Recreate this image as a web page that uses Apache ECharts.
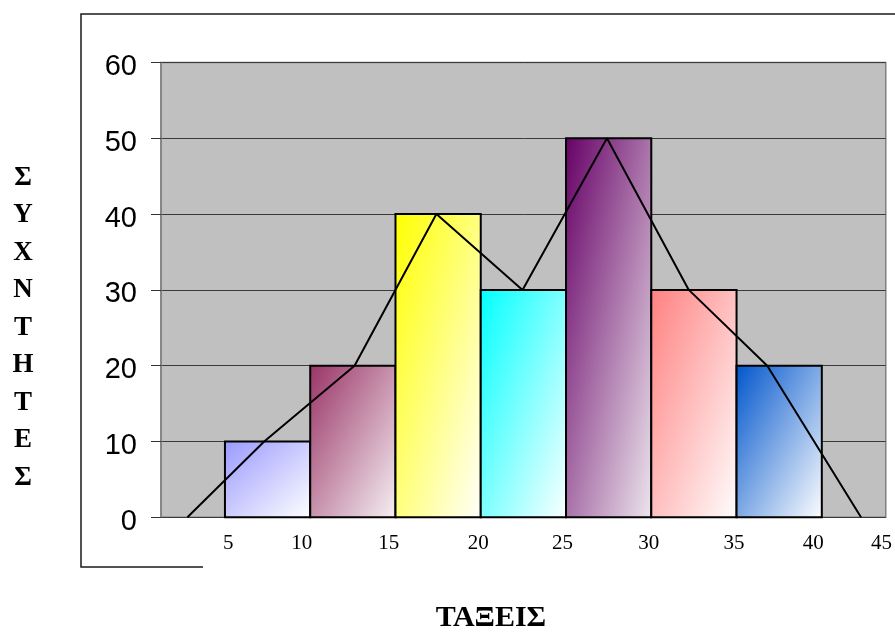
<!DOCTYPE html>
<html>
<head>
<meta charset="utf-8">
<script src="https://cdn.jsdelivr.net/npm/echarts@6/dist/echarts.min.js"></script>
<style>
  html, body { margin: 0; padding: 0; background: #ffffff; }
  #chart { width: 895px; height: 632px; }
</style>
</head>
<body>
<div id="chart"></div>
<script>
// Class intervals (ΤΑΞΕΙΣ) and their frequencies (ΣΥΧΝΟΤΗΤΕΣ)
const classLower = [5, 10, 15, 20, 25, 30, 35];
const classUpper = [10, 15, 20, 25, 30, 35, 40];
const frequencies = [10, 20, 40, 30, 50, 30, 20];

// Frequency polygon vertices (x in class units, y = frequency)
const polygonX = [2.8, 7.3, 12.6, 17.4, 22.45, 27.4, 32.2, 36.8, 42.3];
const polygonY = [0, 10, 20, 40, 30, 50, 30, 20, 0];

// Horizontal tick labels and where each one sits along the axis
const xTickLabels = ['5', '10', '15', '20', '25', '30', '35', '40', '45'];
const xTickAt = [5.2, 9.5, 14.6, 19.85, 24.8, 29.85, 34.85, 39.5, 43.5];

// Vertical axis range
const yMin = 0, yMax = 60, yStep = 10;

// Bar fills: start colour (top-left corner) to end colour (bottom-right corner)
const barFills = [
  ['#9999ff', '#ffffff'],
  ['#993366', '#f6f2f4'],
  ['#ffff00', '#ffffff'],
  ['#00ffff', '#ffffff'],
  ['#660066', '#efeaef'],
  ['#ff8080', '#ffffff'],
  ['#0055cc', '#ffffff']
];

const histData = classLower.map((lo, i) => [lo, classUpper[i], frequencies[i]]);
const polygonData = polygonX.map((x, i) => [x, polygonY[i]]);

// Corner-to-corner gradient whose colour bands run parallel to the
// rectangle's other diagonal (direction expressed as box fractions).
function diagonalGradient(w, h, c0, c1) {
  const d = w * w + h * h;
  const x2 = d > 0 ? (2 * h * h) / d : 1;
  const y2 = d > 0 ? (2 * w * w) / d : 1;
  return new echarts.graphic.LinearGradient(0, 0, x2, y2, [
    { offset: 0, color: c0 },
    { offset: 1, color: c1 }
  ]);
}

const chart = echarts.init(document.getElementById('chart'), null, { renderer: 'canvas' });

chart.setOption({
  animation: false,
  backgroundColor: '#ffffff',
  title: [
    {
      text: 'Σ\nΥ\nΧ\nΝ\nΤ\nΗ\nΤ\nΕ\nΣ',
      left: 23,
      top: 159,
      textAlign: 'center',
      padding: 0,
      textStyle: {
        fontFamily: 'Liberation Serif',
        fontWeight: 'bold',
        fontSize: 27,
        lineHeight: 37.5,
        color: '#000000'
      }
    },
    {
      text: 'ΤΑΞΕΙΣ',
      left: 491,
      top: 602,
      textAlign: 'center',
      padding: 0,
      textStyle: {
        fontFamily: 'Liberation Serif',
        fontWeight: 'bold',
        fontSize: 30,
        lineHeight: 32,
        color: '#000000'
      }
    }
  ],
  grid: {
    left: 161,
    top: 62.5,
    width: 726.3,
    height: 454.8,
    show: true,
    backgroundColor: '#c0c0c0',
    borderColor: '#808080',
    borderWidth: 1.5
  },
  xAxis: {
    type: 'value',
    min: 1.25,
    max: 43.75,
    axisLine: { show: false },
    axisTick: { show: false },
    splitLine: { show: false },
    axisLabel: {
      customValues: xTickAt,
      margin: 16,
      fontFamily: 'Liberation Serif',
      fontSize: 21,
      color: '#000000',
      formatter: function (v) {
        let best = 0;
        for (let i = 1; i < xTickAt.length; i++) {
          if (Math.abs(xTickAt[i] - v) < Math.abs(xTickAt[best] - v)) best = i;
        }
        return xTickLabels[best];
      }
    }
  },
  yAxis: {
    type: 'value',
    min: yMin,
    max: yMax,
    interval: yStep,
    axisLine: { show: true, lineStyle: { color: '#808080', width: 1.5 } },
    axisTick: { show: true, length: 10, lineStyle: { color: '#333333', width: 1 } },
    splitLine: { show: true, lineStyle: { color: '#3a3a3a', width: 1 } },
    axisLabel: {
      margin: 24,
      fontFamily: 'Liberation Sans',
      fontSize: 29,
      color: '#000000',
      verticalAlign: 'top',
      lineHeight: 9
    }
  },
  graphic: [
    {
      type: 'polyline',
      silent: true,
      shape: { points: [[203, 567], [81, 567], [81, 14], [895, 14]] },
      style: { stroke: '#1a1a1a', lineWidth: 1.5, fill: null }
    }
  ],
  series: [
    {
      type: 'custom',
      data: histData,
      z: 2,
      renderItem: function (params, api) {
        const topLeft = api.coord([api.value(0), api.value(2)]);
        const bottomRight = api.coord([api.value(1), 0]);
        const w = bottomRight[0] - topLeft[0];
        const h = bottomRight[1] - topLeft[1];
        const f = barFills[params.dataIndex];
        return {
          type: 'rect',
          shape: { x: topLeft[0], y: topLeft[1], width: w, height: h },
          style: {
            fill: diagonalGradient(w, h, f[0], f[1]),
            stroke: '#000000',
            lineWidth: 2
          }
        };
      }
    },
    {
      type: 'line',
      data: polygonData,
      z: 3,
      symbol: 'none',
      lineStyle: { color: '#000000', width: 2 }
    }
  ]
});
</script>
</body>
</html>
